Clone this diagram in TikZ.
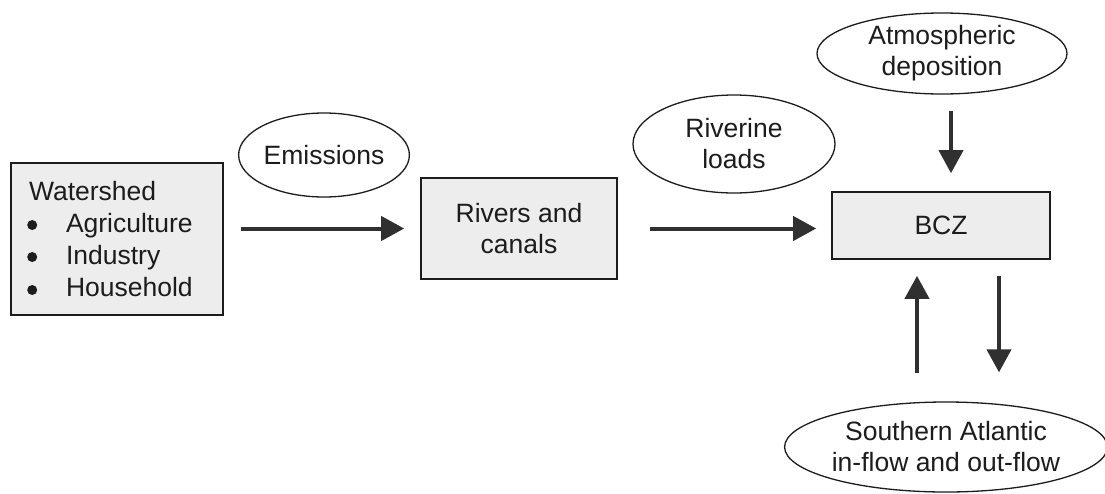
\documentclass[tikz,border=0pt]{standalone}
\usepackage{fontspec}
\setmainfont{Liberation Sans}
\usetikzlibrary{arrows.meta,shapes.geometric}
\definecolor{ink}{HTML}{1C1C1C}
\definecolor{arrowgray}{HTML}{303030}
\definecolor{boxfill}{HTML}{EDEDED}
\tikzset{
  lbl/.style={font=\fontsize{26.5}{31}\selectfont, text=ink, align=center},
  stage/.style={lbl, draw=ink, line width=1.6pt, fill=boxfill, rectangle, inner sep=0pt},
  source/.style={lbl, draw=ink, line width=1.3pt, fill=white, ellipse, inner sep=0pt},
  flow/.style={draw=arrowgray, line width=4pt,
    -{Triangle[length=23pt,width=24pt]}},
  listdot/.style={fill=ink}
}
\begin{document}
\begin{tikzpicture}[x=1pt,y=-1pt]
\useasboundingbox (0,0) rectangle (1105,493);

% stages of the nutrient pathway
\node[stage, minimum width=212pt, minimum height=152pt, text width=176pt,
      inner xsep=18pt, align=left, font=\fontsize{26.5}{32}\selectfont] (ws) at (117,239)
  {Watershed\\
   \hspace*{37pt}Agriculture\\
   \hspace*{37pt}Industry\\
   \hspace*{37pt}Household};
\fill[listdot] ([shift={(22,-14)}]ws.west) circle (5);
\fill[listdot] ([shift={(22,18)}]ws.west) circle (5);
\fill[listdot] ([shift={(22,51)}]ws.west) circle (5);

\node[stage, minimum width=196pt, minimum height=101pt] (rivers) at (519,228.5)
  {Rivers and\\canals};
\node[stage, minimum width=218pt, minimum height=67pt] (bcz) at (941,225.5) {BCZ};

% loads entering and leaving
\node[source, minimum width=166pt, minimum height=84pt] (emis) at (324,155) {Emissions};
\node[source, minimum width=202pt, minimum height=98pt] (river) at (734,144) {Riverine\\loads};
\node[source, minimum width=250pt, minimum height=81pt] (atmo) at (942,53.5)
  {Atmospheric\\deposition};
\node[source, minimum width=306pt, minimum height=90pt] (atl) at (946,447)
  {Southern Atlantic\\in-flow and out-flow};

% flows
\draw[flow, shorten <=17pt, shorten >=16pt] (ws.east |- rivers.west) -- (rivers.west);
\draw[flow, shorten <=32pt, shorten >=15pt] (rivers.east) -- (rivers.east -| bcz.west);
\draw[flow, shorten <=16pt, shorten >=18pt]
  ([xshift=9pt]atmo.south) -- ([xshift=9pt]atmo.south |- bcz.north);
\draw[flow, shorten <=28pt, shorten >=16pt]
  ([xshift=-24pt]bcz.south |- atl.north) -- ([xshift=-24pt]bcz.south);
\draw[flow, shorten <=16pt, shorten >=29pt]
  ([xshift=58pt]bcz.south) -- ([xshift=58pt]bcz.south |- atl.north);
\end{tikzpicture}
\end{document}
